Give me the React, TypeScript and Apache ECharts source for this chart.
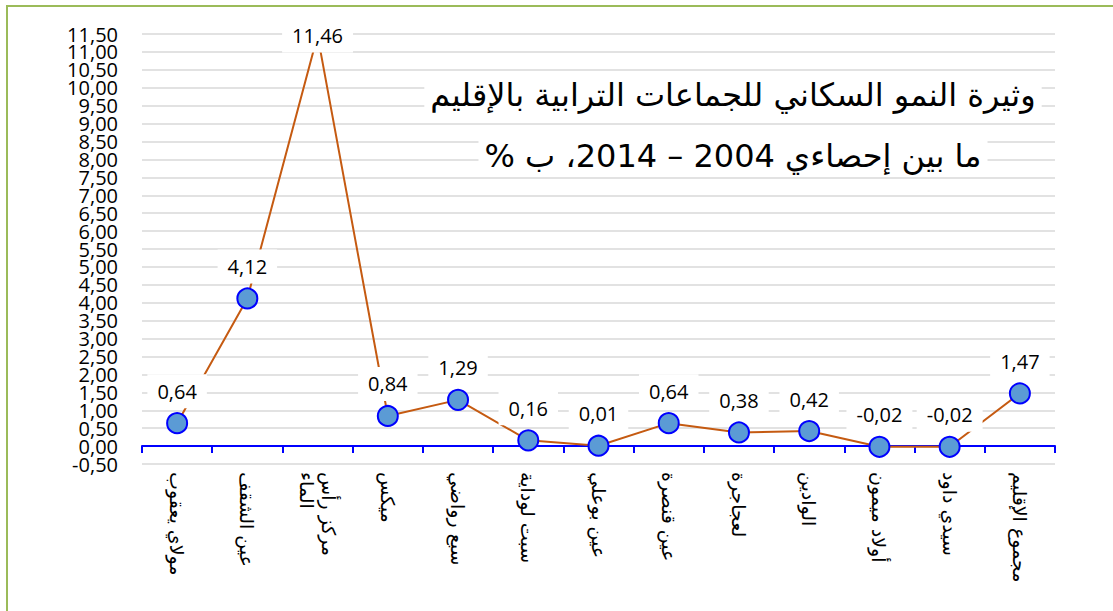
import React, { useEffect, useRef } from "react";
import * as echarts from "echarts";

const categories = [
  "مولاي يعقوب",
  "عين الشقف",
  "مركز رأس\nالماء",
  "ميكس",
  "سبع رواضي",
  "سبت لوداية",
  "عين بوعلي",
  "عين قنصرة",
  "لعجاجرة",
  "الوادين",
  "أولاد ميمون",
  "سيدي داود",
  "مجموع الإقليم",
];
const values = [0.64, 4.12, 11.46, 0.84, 1.29, 0.16, 0.01, 0.64, 0.38, 0.42, -0.02, -0.02, 1.47];
const titleLine1 = "\u200Fوثيرة النمو السكاني للجماعات الترابية بالإقليم\u200F";
const titleLine2 = "\u200Fما بين إحصاءي 2004 – 2014، ب %\u200F";
const yMin = -0.5;
const yMax = 11.5;
const yInterval = 0.5;

const fmt = (v: number) => v.toFixed(2).replace(".", ",");

export default function App() {
  const ref = useRef<HTMLDivElement>(null);
  useEffect(() => {
    if (!ref.current) return;
    const chart = echarts.init(ref.current, undefined, { renderer: "svg" });
    const numFont = "Open Sans";
    const arFont = "DejaVu Sans";
    const yLabelBase = {
      fontFamily: numFont,
      fontSize: 20,
      lineHeight: 14,
      color: "#000",
      margin: 24,
      hideOverlap: false,
    };
    chart.setOption({
      animation: false,
      backgroundColor: "#ffffff",
      title: [
        {
          text: titleLine1,
          left: 727,
          top: 77,
          textAlign: "center",
          backgroundColor: "#ffffff",
          padding: [2, 6],
          textStyle: { fontFamily: arFont, fontSize: 32, fontWeight: "normal", color: "#000" },
        },
        {
          text: titleLine2,
          left: 727,
          top: 138,
          textAlign: "center",
          backgroundColor: "#ffffff",
          padding: [2, 6],
          textStyle: { fontFamily: arFont, fontSize: 32, fontWeight: "normal", color: "#000" },
        },
      ],
      graphic: [
        {
          type: "rect",
          shape: { x: 7, y: 6, width: 1200, height: 700 },
          style: { fill: "none", stroke: "#9BBB59", lineWidth: 2 },
          silent: true,
          z: 100,
        },
      ],
      grid: { left: 142, right: 58, top: 34, bottom: 147, containLabel: false },
      xAxis: {
        type: "category",
        data: categories,
        boundaryGap: true,
        axisLine: {
          show: true,
          onZero: true,
          onZeroAxisIndex: 0,
          lineStyle: { color: "#0000FF", width: 2 },
        },
        axisTick: { show: true, length: 7, lineStyle: { color: "#0000FF", width: 2 } },
        axisLabel: {
          rotate: -90,
          interval: 0,
          margin: 8,
          fontFamily: arFont,
          fontSize: 19,
          lineHeight: 22,
          color: "#000",
        },
        splitLine: { show: false },
      },
      yAxis: [
        {
          type: "value",
          position: "left",
          min: yMin,
          max: yMax,
          interval: yInterval,
          axisLine: { show: false },
          axisTick: { show: false },
          axisLabel: {
            ...yLabelBase,
            formatter: (v: number) => fmt(v),
            showMinLabel: false,
            showMaxLabel: false,
          },
          splitLine: { show: true, lineStyle: { color: "#D9D9D9", width: 1.5 } },
        },
        {
          type: "value",
          position: "left",
          offset: 0,
          min: yMin,
          max: yMax,
          interval: yInterval,
          axisLine: { show: false },
          axisTick: { show: false },
          axisLabel: {
            ...yLabelBase,
            formatter: (v: number) => (v === yMin || v === yMax ? fmt(v) : ""),
            showMinLabel: true,
            showMaxLabel: true,
          },
          splitLine: { show: false },
        },
      ],
      series: [
        {
          type: "line",
          yAxisIndex: 0,
          data: values.map((v, i) =>
            i === 2 ? { value: v, label: { position: "inside" } } : v
          ),
          symbol: "circle",
          symbolSize: 20,
          lineStyle: { color: "#C55A11", width: 2 },
          itemStyle: { color: "#5B9BD5", borderColor: "#0000FF", borderWidth: 2 },
          label: {
            show: true,
            position: "top",
            distance: 4,
            formatter: (p: any) => fmt(p.value),
            fontFamily: numFont,
            fontSize: 20,
            color: "#000",
            backgroundColor: "#ffffff",
            padding: [7, 10],
          },
          z: 3,
        },
      ],
    });
    return () => chart.dispose();
  }, []);
  return (
    <div
      ref={ref}
      style={{ position: "fixed", left: 0, top: 0, width: 1113, height: 611 }}
    />
  );
}
